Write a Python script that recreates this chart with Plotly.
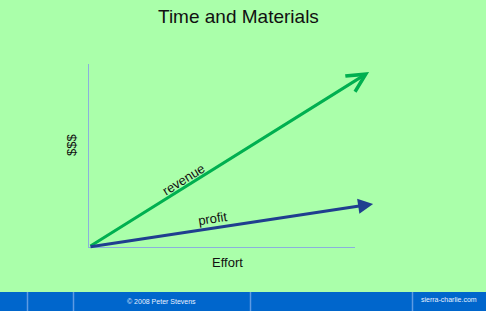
import math
import plotly.graph_objects as go

# Data
effort_start = 0.0
revenue_end = (10.53, 9.56)   # (effort, $$$)
profit_end = (10.68, 2.35)
series_names = ["revenue", "profit"]
label_pos = {"revenue": (3.55, 3.70), "profit": (4.66, 1.58)}
title_text = "Time and Materials"
x_title = "Effort"
y_title = "$$$"
footer_texts = ["© 2008 Peter Stevens", "sierra-charlie.com"]

W, H = 486, 311
BG = "#AAFFAA"
GREEN = "#00B050"
NAVY = "#1F3F8F"
AXIS = "#8AB0DD"
FOOT = "#0066CC"
FONT = "Liberation Sans, Arial, sans-serif"

fig = go.Figure()
fig.add_trace(go.Scatter(x=[0], y=[0], mode="markers", marker=dict(size=1, opacity=0),
                         showlegend=False, hoverinfo="skip"))

ends = {"revenue": revenue_end, "profit": profit_end}
styles = {"revenue": dict(color=GREEN, head=5, size=1.2),
          "profit": dict(color=NAVY, head=2, size=1.0)}
annos = []
for name in series_names:
    ex, ey = ends[name]
    st = styles[name]
    annos.append(dict(x=ex, y=ey, ax=effort_start, ay=0, xref="x", yref="y", axref="x", ayref="y",
                      text="", showarrow=True, arrowhead=st["head"], arrowsize=st["size"],
                      arrowwidth=3, arrowcolor=st["color"], standoff=0, startstandoff=0))
# line labels
px_per_x = (355 - 89) / 10.0
px_per_y = (247 - 64) / 10.0
for name in series_names:
    ex, ey = ends[name]
    ang = -math.degrees(math.atan2(ey * px_per_y, ex * px_per_x))
    lx, ly = label_pos[name]
    annos.append(dict(x=lx, y=ly, xref="x", yref="y", text=name, showarrow=False,
                      xanchor="center", yanchor="middle",
                      textangle=ang, font=dict(family=FONT, size=13, color="#111111")))

def ptext(txt, px, py, size, color="#111111", angle=0):
    return dict(x=px / W, y=1 - py / H, xref="paper", yref="paper", text=txt,
                showarrow=False, xanchor="center", yanchor="middle", textangle=angle,
                font=dict(family=FONT, size=size, color=color))

annos.append(ptext(title_text, 238, 16, 19))
annos.append(ptext(x_title, 227, 262, 13))
annos.append(ptext(y_title, 71, 145, 13, angle=-90))
annos.append(ptext(footer_texts[0], 161, 301, 7, color="#E8F0FF"))
annos.append(ptext(footer_texts[1], 449, 299, 7, color="#E8F0FF"))

shapes = [dict(type="rect", xref="paper", yref="paper", x0=0, x1=1, y0=0, y1=1 - 292 / H,
               fillcolor=FOOT, line=dict(width=0), layer="above")]
for sx in [27.5, 73.5, 250.5, 412.5]:
    shapes.append(dict(type="line", xref="paper", yref="paper", x0=sx / W, x1=sx / W,
                       y0=0, y1=1 - 292 / H, line=dict(color="#5E9BE3", width=1.5), layer="above"))

fig.update_layout(
    width=W, height=H, margin=dict(l=0, r=0, t=0, b=0),
    paper_bgcolor=BG, plot_bgcolor=BG, showlegend=False,
    xaxis=dict(domain=[89 / W, 355 / W], range=[0, 10], showgrid=False, zeroline=False,
               showticklabels=False, ticks="", showline=True, linecolor=AXIS, linewidth=1),
    yaxis=dict(domain=[1 - 247 / H, 1 - 64 / H], range=[0, 10], showgrid=False, zeroline=False,
               showticklabels=False, ticks="", showline=True, linecolor=AXIS, linewidth=1),
    annotations=annos, shapes=shapes,
)
fig.write_html("out.html")
